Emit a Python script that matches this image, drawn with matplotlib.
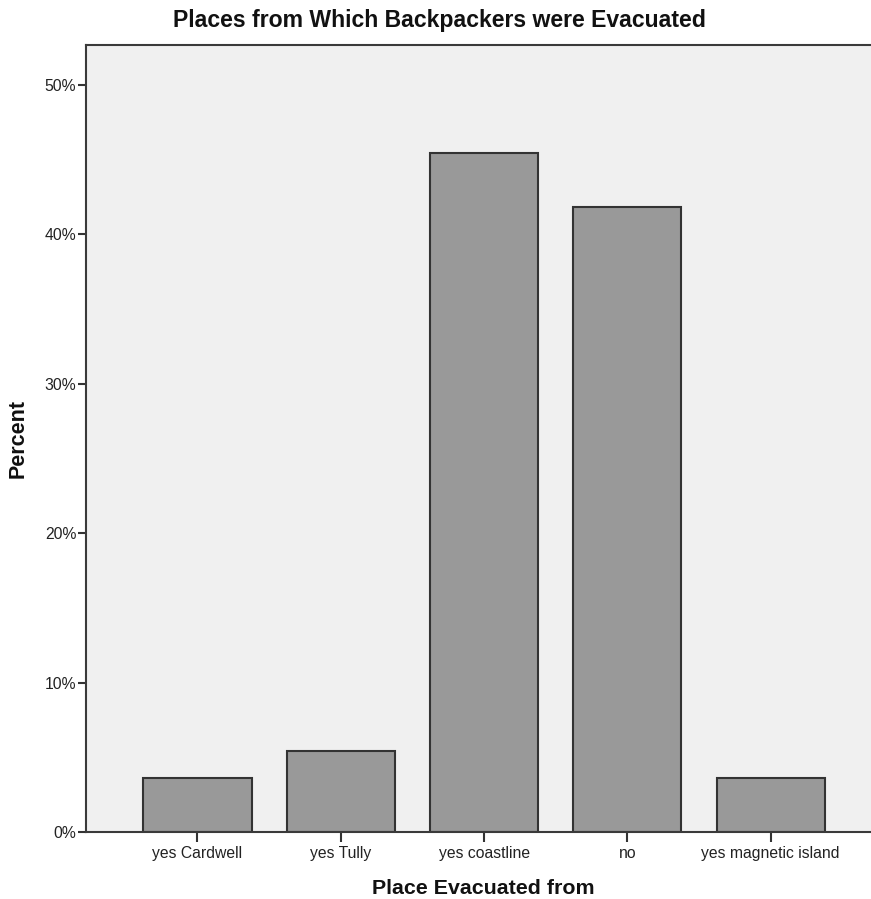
import matplotlib
matplotlib.use("Agg")
import matplotlib.pyplot as plt
from matplotlib.ticker import FuncFormatter

categories = ["yes Cardwell", "yes Tully", "yes coastline", "no", "yes magnetic island"]
percents = [3.64, 5.45, 45.45, 41.82, 3.64]
yticks = [0, 10, 20, 30, 40, 50]

plt.rcParams['font.family'] = ['Liberation Sans', 'DejaVu Sans']

W, H = 871, 899
fig = plt.figure(figsize=(W / 100, H / 100), dpi=100)
left, right, top, bottom = 86, 871, 45, 832
ax = fig.add_axes([left / W, (H - bottom) / H, (right - left) / W, (bottom - top) / H])
ax.set_facecolor("#f0f0f0")

x = list(range(len(categories)))
ax.bar(x, percents, width=0.755, color="#999999", edgecolor="#333333", linewidth=1.5, zorder=2)

ax.set_xlim(-0.778, 4.70)
ax.set_ylim(0, 52.68)
ax.set_xticks(x)
ax.set_xticklabels(categories, fontsize=11.3, color="#222222")
ax.set_yticks(yticks)
ax.yaxis.set_major_formatter(FuncFormatter(lambda v, p: f"{int(v)}%"))
ax.tick_params(axis='y', labelsize=11.3, length=6, width=1.5, color="#333333", labelcolor="#222222", pad=1)
ax.tick_params(axis='x', length=7, width=1.5, color="#333333", pad=3)

for s in ["left", "top", "bottom"]:
    ax.spines[s].set_linewidth(1.5)
    ax.spines[s].set_color("#3a3a3a")
ax.spines["right"].set_visible(False)

fig.text(439.5 / W, 1 - 21 / H, "Places from Which Backpackers were Evacuated",
         ha="center", va="center", fontsize=16.6, fontweight="bold", color="#111111")
fig.text(483 / W, 1 - 888 / H, "Place Evacuated from",
         ha="center", va="center", fontsize=15.4, fontweight="bold", color="#111111")
fig.text(18 / W, 1 - 438 / H, "Percent", rotation=90,
         ha="center", va="center", fontsize=15.5, fontweight="bold", color="#111111")

fig.savefig("out.png", dpi=100, facecolor="white")
